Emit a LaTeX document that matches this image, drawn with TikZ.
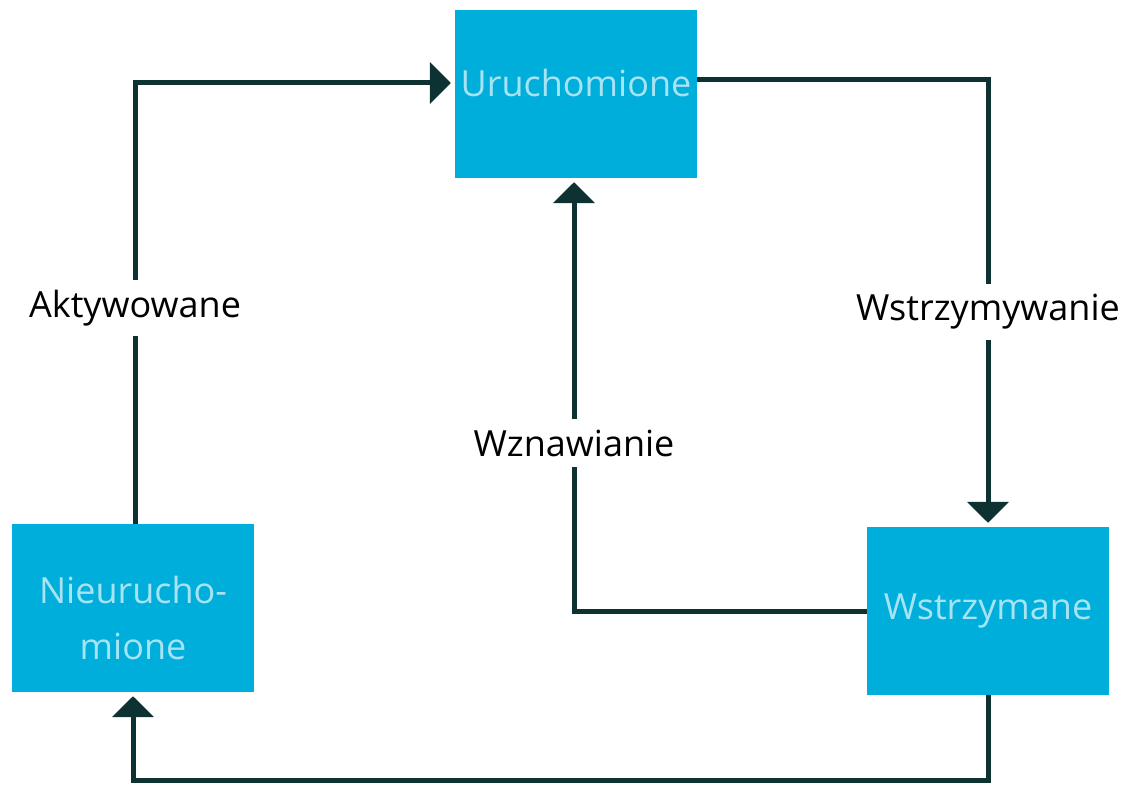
\documentclass[tikz,border=0pt]{standalone}
\usepackage{fontspec}
\setmainfont{Open Sans}
\usetikzlibrary{positioning, calc, arrows.meta}
\definecolor{boxcyan}{HTML}{00AEDC}
\definecolor{boxtext}{HTML}{A6E3F3}
\definecolor{linedark}{HTML}{0E3131}
\tikzstyle{State} = [
rectangle, fill=boxcyan, text=boxtext,
minimum width=242pt, minimum height=168pt,
align=center, font=\fontsize{36}{56}\selectfont]
\tikzstyle{Label} = [
fill=white, inner xsep=2pt, inner ysep=10pt,
font=\fontsize{36}{43}\selectfont]
\tikzstyle{Arrow} = [
line width=5pt, draw=linedark,
-{Triangle[length=21pt, width=41pt]},
shorten >= 4pt]
\tikzstyle{Line} = [line width=5pt, draw=linedark]

\begin{document}
\begin{tikzpicture}[x=1pt, y=-1pt]
    \useasboundingbox (0,0) rectangle (1127,786);
    \node [State, text depth=22pt] (run) at (576,94) {Uruchomione};
    \node [State] (notrun) at (133,608) {\rule{0pt}{48pt}Nieurucho-\\mione};
    \node [State] (paused) at (988,611) {Wstrzymane};
    \node [Label] (activ) at (135,308) {Aktywowane};
    \node [Label] (pausing) at (988,312) {Wstrzymywanie};
    \node [Label] (resume) at (574,443) {Wznawianie};
    \coordinate (bottom) at (0,780);
    \draw[Line] ([xshift=2pt]notrun.north) -- (activ);
    \draw[Arrow] (activ) |- ([yshift=11pt]run.west);
    \draw[Line] ([yshift=14pt]run.east) -| (pausing);
    \draw[Arrow] (pausing) -- (paused.north);
    \draw[Line] (paused.west) -| (resume);
    \draw[Arrow] (resume) -- ([xshift=-2pt]run.south);
    \draw[Arrow] (paused.south) -- (paused.south |- bottom) -| (notrun.south);
\end{tikzpicture}
\end{document}
